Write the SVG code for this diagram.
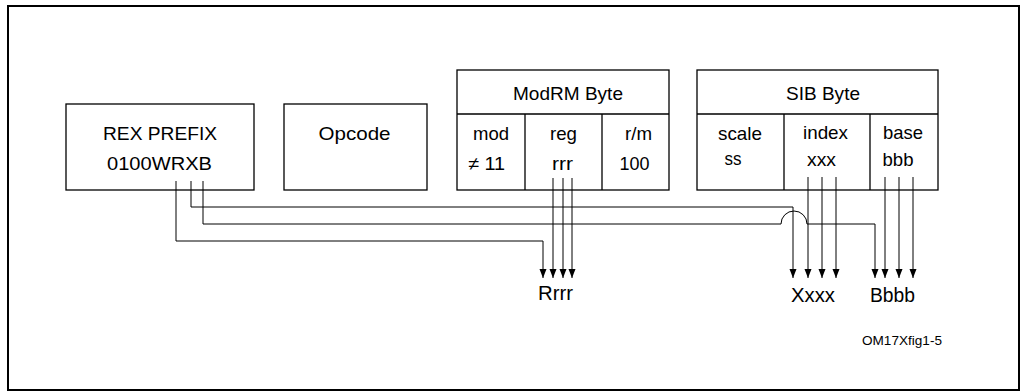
<svg xmlns="http://www.w3.org/2000/svg" width="1023" height="392" viewBox="0 0 1023 392">
<style>
text{font-family:"Liberation Sans",Arial,sans-serif;font-size:18.5px;fill:#000;text-anchor:middle}
.box{fill:#fff;stroke:#000;stroke-width:1.3}
.div{stroke:#000;stroke-width:1.3;fill:none}
.w{fill:none;stroke:#000;stroke-width:1}
.big{font-size:20px}
.sm{font-size:13.5px}
</style>
<defs>
<marker id="ah" markerUnits="userSpaceOnUse" markerWidth="10" markerHeight="8" refX="9" refY="3.5" orient="auto">
<path d="M0,0 L9,3.5 L0,7 z" fill="#000"/>
</marker>
</defs>
<rect x="0" y="0" width="1023" height="392" fill="#fff"/>
<rect x="8" y="6" width="1011" height="384" fill="none" stroke="#000" stroke-width="2"/>
<g id="rex">
<rect class="box" x="66" y="104" width="188" height="86"/>
<text x="160" y="140" textLength="114" lengthAdjust="spacingAndGlyphs">REX PREFIX</text>
<text x="159.5" y="170" textLength="105" lengthAdjust="spacingAndGlyphs">0100WRXB</text>
</g>
<g id="opcode">
<rect class="box" x="284" y="104" width="143" height="86"/>
<text x="354.5" y="140" textLength="72" lengthAdjust="spacingAndGlyphs">Opcode</text>
</g>
<g id="modrm">
<rect class="box" x="457" y="70" width="212" height="120"/>
<path class="div" d="M457,114 H669 M525,114 V190 M602,114 V190"/>
<text x="568" y="100" textLength="110" lengthAdjust="spacingAndGlyphs">ModRM Byte</text>
<text x="491" y="140" textLength="36" lengthAdjust="spacingAndGlyphs">mod</text>
<text x="486.5" y="170" textLength="37" lengthAdjust="spacingAndGlyphs">≠ 11</text>
<text x="563.5" y="140" textLength="27" lengthAdjust="spacingAndGlyphs">reg</text>
<text x="562.5" y="170" textLength="21" lengthAdjust="spacingAndGlyphs">rrr</text>
<text x="638.5" y="140" textLength="27" lengthAdjust="spacingAndGlyphs">r/m</text>
<text x="634.5" y="170" textLength="30" lengthAdjust="spacingAndGlyphs">100</text>
</g>
<g id="sib">
<rect class="box" x="697" y="70" width="241" height="120"/>
<path class="div" d="M697,114 H938 M784,114 V190 M870,114 V190"/>
<text x="823" y="100" textLength="74" lengthAdjust="spacingAndGlyphs">SIB Byte</text>
<text x="740" y="140" textLength="44" lengthAdjust="spacingAndGlyphs">scale</text>
<text x="733" y="165" textLength="17" lengthAdjust="spacingAndGlyphs">ss</text>
<text x="825.5" y="139" textLength="45" lengthAdjust="spacingAndGlyphs">index</text>
<text x="821.5" y="166" textLength="29" lengthAdjust="spacingAndGlyphs">xxx</text>
<text x="903" y="139" textLength="40" lengthAdjust="spacingAndGlyphs">base</text>
<text x="898" y="166" textLength="31" lengthAdjust="spacingAndGlyphs">bbb</text>
</g>
<g id="connectors">
<path class="w" d="M176,181 V241 H543 V278" marker-end="url(#ah)"/>
<path class="w" d="M191,181 V207 H793 V278" marker-end="url(#ah)"/>
<path class="w" d="M203,181 V224 H781 A13,13 0 0 1 807,224 H875 V278" marker-end="url(#ah)"/>
<path class="w" d="M553,178 V278" marker-end="url(#ah)"/>
<path class="w" d="M563,178 V278" marker-end="url(#ah)"/>
<path class="w" d="M572,178 V278" marker-end="url(#ah)"/>
<path class="w" d="M808,177 V278" marker-end="url(#ah)"/>
<path class="w" d="M822,177 V278" marker-end="url(#ah)"/>
<path class="w" d="M836,177 V278" marker-end="url(#ah)"/>
<path class="w" d="M885,177 V278" marker-end="url(#ah)"/>
<path class="w" d="M899,177 V278" marker-end="url(#ah)"/>
<path class="w" d="M913,177 V278" marker-end="url(#ah)"/>
</g>
<g id="labels">
<text class="big" x="555.5" y="300" textLength="35" lengthAdjust="spacingAndGlyphs">Rrrr</text>
<text class="big" x="813" y="302" textLength="44" lengthAdjust="spacingAndGlyphs">Xxxx</text>
<text class="big" x="892.5" y="302" textLength="45" lengthAdjust="spacingAndGlyphs">Bbbb</text>
<text class="sm" x="902" y="345" textLength="80" lengthAdjust="spacingAndGlyphs">OM17Xfig1-5</text>
</g>
</svg>
